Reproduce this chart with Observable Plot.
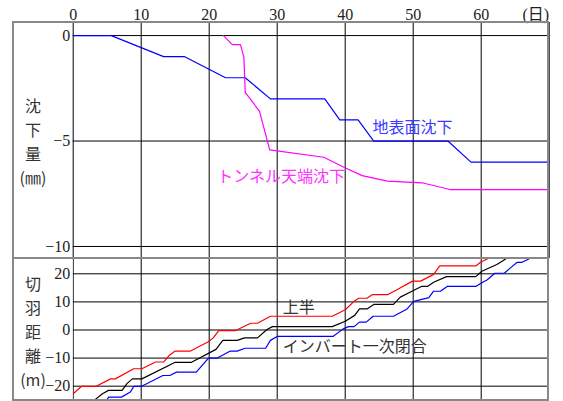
<!DOCTYPE html>
<html><head><meta charset="utf-8">
<script src="https://cdn.jsdelivr.net/npm/d3@7"></script>
<script src="https://cdn.jsdelivr.net/npm/@observablehq/plot@0.6"></script>
<style>
body{margin:0;background:#fff;}
#wrap{position:relative;width:563px;height:401px;overflow:hidden;background:#fff;}
#wrap svg{position:absolute;left:0;}
.frame{position:absolute;left:12px;top:21px;width:537px;height:380px;box-sizing:border-box;border:2px solid #888;pointer-events:none;}
.sep{position:absolute;left:12px;top:257px;width:537px;height:2px;background:#888;}
.ytitle{position:absolute;left:19px;width:28px;text-align:center;font-family:"Noto Sans CJK JP",sans-serif;font-size:16px;line-height:24px;color:#333;}
</style></head>
<body><div id="wrap"></div>
<script>
// ---- data ----
const dayTicks = [0, 10, 20, 30, 40, 50, 60];
const dayGrid = [0, 10, 20, 30, 40, 50, 60, 70];
const dayUnit = ["(日)"];
const settleTicks = [0, -5, -10];
const faceTicks = [20, 10, 0, -10, -20];

// 地表面沈下 (day, mm)
const groundSettlement = [[0,0],[5.6,0],[13.3,-1],[16.4,-1],[22.4,-2],[25.3,-2],[29.0,-3],[37.0,-3],[39.2,-4],[41.9,-4],[44.2,-5],[55.1,-5],[58.5,-6],[70,-6]];
// トンネル天端沈下 (day, mm)
const crownSettlement = [[22.1,0],[23.4,-0.43],[24.6,-0.43],[25.1,-1.03],[25.3,-2.69],[27.4,-3.59],[28.9,-5.42],[36.85,-5.77],[39.8,-6.24],[42.5,-6.64],[46.2,-6.9],[51.3,-6.98],[55.4,-7.3],[70,-7.3]];

// 切羽距離 (day, m)
const upperHalf = [[0,-22.7],[1.2,-20.1],[3.3,-20.1],[5.5,-17.4],[6.2,-17.4],[8.9,-13.8],[10.1,-13.8],[12.1,-11.4],[13.3,-11.4],[14.1,-9.1],[15.0,-7.5],[17.25,-7.5],[19.8,-4.3],[20.6,-2.8],[21.4,-0.2],[23.9,-0.2],[26.1,2.4],[27.1,2.4],[29.0,4.9],[38.1,4.9],[40.0,7.2],[41.3,10.2],[42.0,11.3],[43.2,11.3],[44.0,12.6],[46.3,12.6],[47.6,14.3],[49.9,17.4],[51.1,17.4],[53.0,19.8],[53.9,22.8],[59.2,22.8],[59.9,24.1],[60.9,25.3]];
const lowerHalf = [[0,-24.8],[3.2,-24.8],[4.3,-22.7],[5.2,-21.5],[7.2,-21.5],[7.9,-19.1],[8.7,-17.4],[10.1,-17.4],[15.0,-11.5],[17.4,-11.5],[21.0,-6.9],[22.0,-3.7],[24.1,-3.7],[25.2,-2.8],[27.1,-2.8],[28.5,0.2],[29.3,1.2],[38.1,1.2],[40.0,3.1],[41.4,5.2],[42.1,7.5],[43.2,7.5],[44.2,9.1],[47.1,9.1],[48.1,11.7],[49.6,13.5],[51.2,15.5],[52.1,15.5],[53.0,17.0],[54.9,19.0],[59.2,19.0],[60.1,20.9],[62.3,23.3],[63.6,25.3]];
const invertClosure = [[4.9,-25.1],[5.2,-23.9],[7.1,-23.9],[8.4,-22.1],[8.9,-20.1],[10.0,-20.1],[13.2,-16.2],[14.2,-16.2],[15.2,-15.0],[18.1,-15.0],[19.9,-10.0],[21.2,-10.0],[23.1,-7.5],[24.1,-7.5],[25.3,-6.5],[28.3,-6.5],[29.0,-3.7],[30.0,-2.3],[38.2,-2.3],[39.7,0.4],[40.5,1.2],[41.3,1.2],[42.1,2.8],[43.1,2.8],[44.1,4.9],[47.1,4.9],[49.1,7.5],[50.1,10.2],[52.3,11.5],[53.0,13.8],[54.0,13.8],[55.0,15.5],[59.2,15.5],[60.1,16.8],[60.9,17.9],[62.0,20.2],[63.4,20.2],[64.3,22.1],[65.3,24.1],[66.0,24.1],[67.0,25.3]];

// series labels (day, value)
const settleLabels = [
  {text:"地表面沈下", day:44.0, val:-4.36, color:"#3a3aff"},
  {text:"トンネル天端沈下", day:21.2, val:-6.72, color:"#ff33ff"}
];
const faceLabels = [
  {text:"上半", day:30.8, val:7.9, color:"#333"},
  {text:"インバート一次閉合", day:30.8, val:-6.1, color:"#333"}
];

// ---- drawing ----
const numFont = "'Liberation Serif', 'Noto Sans CJK JP', serif";
const jpFont = "'Noto Sans CJK JP', sans-serif";
const W = 563, mL = 72.7, mR = 14.3;

const topPlot = Plot.plot({
  width: W, height: 258, marginTop: 22, marginBottom: 0, marginLeft: mL, marginRight: mR,
  style: {fontFamily: numFont, fontSize: "16px", color: "#222", background: "transparent", overflow: "visible"},
  x: {domain: [0, 70], label: null},
  y: {domain: [-10.57, 0.62], label: null},
  marks: [
    Plot.ruleX(dayGrid, {stroke: "#000", strokeWidth: 1}),
    Plot.ruleY(settleTicks, {stroke: "#000", strokeWidth: 1}),
    Plot.axisX({anchor: "top", ticks: dayTicks, tickSize: 0, tickPadding: 3, tickFormat: d => String(d), fontSize: 16, fill: "#222", label: null}),
    Plot.text(dayUnit, {x: () => 70, frameAnchor: "top", text: d => d, textAnchor: "end", lineAnchor: "bottom", dy: -3, fontSize: 16, fill: "#222"}),
    Plot.axisY({ticks: settleTicks, tickSize: 0, tickPadding: 3, fontSize: 16, fill: "#222", label: null}),
    Plot.line(groundSettlement, {x: d => d[0], y: d => d[1], stroke: "#0000ff", strokeWidth: 1.2}),
    Plot.line(crownSettlement, {x: d => d[0], y: d => d[1], stroke: "#ff00ff", strokeWidth: 1.2}),
    Plot.text(settleLabels, {x: "day", y: "val", text: "text", fill: "color", textAnchor: "start", fontSize: 16, fontFamily: jpFont})
  ]
});

const botPlot = Plot.plot({
  width: W, height: 143, marginTop: 0, marginBottom: 1, marginLeft: mL, marginRight: mR,
  style: {fontFamily: numFont, fontSize: "16px", color: "#222", background: "transparent", overflow: "visible"},
  x: {domain: [0, 70], axis: null, label: null},
  y: {domain: [-25.1, 25.45], label: null},
  clip: true,
  marks: [
    Plot.ruleX(dayGrid, {stroke: "#000", strokeWidth: 1}),
    Plot.ruleY(faceTicks, {stroke: "#000", strokeWidth: 1}),
    Plot.axisY({ticks: faceTicks, tickSize: 0, tickPadding: 3, fontSize: 16, fill: "#222", label: null}),
    Plot.line(upperHalf, {x: d => d[0], y: d => d[1], stroke: "#ff0000", strokeWidth: 1.2}),
    Plot.line(lowerHalf, {x: d => d[0], y: d => d[1], stroke: "#000000", strokeWidth: 1.2}),
    Plot.line(invertClosure, {x: d => d[0], y: d => d[1], stroke: "#0000ff", strokeWidth: 1.2}),
    Plot.text(faceLabels, {x: "day", y: "val", text: "text", fill: "color", textAnchor: "start", fontSize: 16, fontFamily: jpFont})
  ]
});

const wrap = document.getElementById("wrap");
topPlot.style.top = "0px";
botPlot.style.top = "258px";
wrap.appendChild(topPlot);
wrap.appendChild(botPlot);

const frame = document.createElement("div"); frame.className = "frame"; wrap.appendChild(frame);
const sep = document.createElement("div"); sep.className = "sep"; wrap.appendChild(sep);

const t1 = document.createElement("div"); t1.className = "ytitle"; t1.style.top = "93px";
t1.innerHTML = "沈<br>下<br>量<br>(㎜)"; wrap.appendChild(t1);
const t2 = document.createElement("div"); t2.className = "ytitle"; t2.style.top = "271px";
t2.innerHTML = "切<br>羽<br>距<br>離<br>(m)"; wrap.appendChild(t2);
</script>
</body></html>
